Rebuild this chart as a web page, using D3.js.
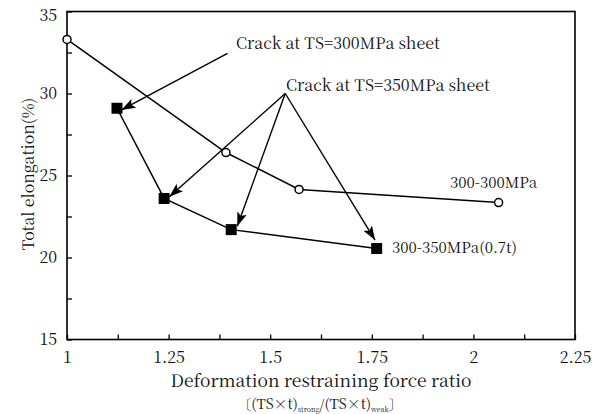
<!DOCTYPE html>
<html>
<head>
<meta charset="utf-8">
<script src="https://cdn.jsdelivr.net/npm/d3@7"></script>
<style>
  body { margin: 0; background: #fff; }
</style>
</head>
<body>
<div id="chart"></div>
<script>
// data
const ratio300 = [1.0, 1.391, 1.571, 2.062];
const elong300 = [33.3, 26.4, 24.15, 23.35];
const ratio350 = [1.123, 1.239, 1.404, 1.762];
const elong350 = [29.1, 23.6, 21.7, 20.55];

const xTicks = [1, 1.25, 1.5, 1.75, 2, 2.25];
const xTickLabels = ["1", "1.25", "1.5", "1.75", "2", "2.25"];
const yTicks = [15, 20, 25, 30, 35];

// annotation arrows: start point and arrow tips (data units)
const crack300 = { label: "Crack at TS=300MPa sheet", at: [1.395, 32.45], targets: [[1.134, 29.0]] };
const crack350 = { label: "Crack at TS=350MPa sheet", at: [1.537, 30.0],
  targets: [[1.252, 23.7], [1.419, 21.9], [1.758, 21.06]] };

const FONT = "'Noto Serif CJK JP', 'Liberation Serif', serif";
const W = 603, H = 414;
const x = d3.scaleLinear().domain([1, 2.25]).range([67, 575]);
const y = d3.scaleLinear().domain([15, 35]).range([339.5, 11.5]);

const svg = d3.select("#chart").append("svg")
  .attr("width", W).attr("height", H);

function label(sel, size) {
  return sel.style("font-family", FONT).style("font-size", size + "px").attr("fill", "#111");
}

const defs = svg.append("defs");
defs.append("marker")
  .attr("id", "arrow")
  .attr("viewBox", "0 0 14 10")
  .attr("refX", 14).attr("refY", 5)
  .attr("markerWidth", 14).attr("markerHeight", 10)
  .attr("markerUnits", "userSpaceOnUse")
  .attr("orient", "auto")
  .append("path")
  .attr("d", "M0,0 L14,5 L0,10 L3,5 Z")
  .attr("fill", "#000");

// frame
svg.append("rect")
  .attr("x", x(1)).attr("y", y(35))
  .attr("width", x(2.25) - x(1)).attr("height", y(15) - y(35))
  .attr("fill", "none").attr("stroke", "#000").attr("stroke-width", 1.6);

// axes with inward ticks
const xAxis = svg.append("g").attr("transform", `translate(0,${y(15)})`)
  .call(d3.axisBottom(x).tickValues(d3.range(1, 2.26, 0.125)).tickSize(-5)
    .tickFormat((d) => {
      const i = xTicks.findIndex((t) => Math.abs(t - d) < 1e-6);
      return i >= 0 ? xTickLabels[i] : "";
    }).tickPadding(12));
xAxis.select(".domain").remove();
xAxis.selectAll("line").attr("stroke", "#000").attr("stroke-width", 1.3);
label(xAxis.selectAll("text"), 16);

const yAxis = svg.append("g").attr("transform", `translate(${x(1)},0)`)
  .call(d3.axisLeft(y).tickValues(d3.range(15, 35.1, 2.5)).tickSize(-5)
    .tickFormat((d) => (yTicks.includes(d) ? d : "")).tickPadding(10));
yAxis.select(".domain").remove();
yAxis.selectAll("line").attr("stroke", "#000").attr("stroke-width", 1.3);
label(yAxis.selectAll("text"), 16);
// keep the top label inside the page
yAxis.selectAll("text").filter((d) => d === 35).attr("dy", "0.55em");

// axis titles
label(svg.append("text"), 16)
  .attr("transform", `translate(28,174) rotate(-90)`)
  .attr("text-anchor", "middle").attr("dy", "0.35em")
  .text("Total elongation(%)");

label(svg.append("text"), 17.5)
  .attr("x", 321).attr("y", 387)
  .attr("text-anchor", "middle")
  .text("Deformation restraining force ratio");

const sub = label(svg.append("text"), 14)
  .attr("x", 320).attr("y", 409)
  .attr("text-anchor", "middle");
sub.append("tspan").text("〔(TS×t)");
sub.append("tspan").attr("dy", 3).style("font-size", "7px").text("strong");
sub.append("tspan").attr("dy", -3).text("/(TS×t)");
sub.append("tspan").attr("dy", 3).style("font-size", "7px").text("weak");
sub.append("tspan").attr("dy", -3).text("〕");

// series lines
const line = d3.line().x((d) => x(d[0])).y((d) => y(d[1]));
const pts300 = ratio300.map((r, i) => [r, elong300[i]]);
const pts350 = ratio350.map((r, i) => [r, elong350[i]]);

svg.append("path").datum(pts300).attr("d", line)
  .attr("fill", "none").attr("stroke", "#000").attr("stroke-width", 1.5);
svg.append("path").datum(pts350).attr("d", line)
  .attr("fill", "none").attr("stroke", "#000").attr("stroke-width", 1.5);

// arrows
[crack300, crack350].forEach((c) => {
  c.targets.forEach((t) => {
    svg.append("line")
      .attr("x1", x(c.at[0])).attr("y1", y(c.at[1]))
      .attr("x2", x(t[0])).attr("y2", y(t[1]))
      .attr("stroke", "#000").attr("stroke-width", 1.4)
      .attr("marker-end", "url(#arrow)");
  });
});

svg.selectAll(".c300").data(pts300).enter().append("circle")
  .attr("cx", (d) => x(d[0])).attr("cy", (d) => y(d[1]))
  .attr("r", 4).attr("fill", "#fff").attr("stroke", "#000").attr("stroke-width", 1.5);

svg.selectAll(".s350").data(pts350).enter().append("rect")
  .attr("x", (d) => x(d[0]) - 5.5).attr("y", (d) => y(d[1]) - 5.5)
  .attr("width", 11).attr("height", 11).attr("fill", "#000");

// annotation texts
label(svg.append("text"), 16).attr("x", 236).attr("y", 49).text(crack300.label);
label(svg.append("text"), 16).attr("x", 286).attr("y", 91).text(crack350.label);

// series labels
label(svg.append("text"), 15).attr("x", 450).attr("y", 188).text("300-300MPa");
label(svg.append("text"), 15).attr("x", 392).attr("y", 253).text("300-350MPa(0.7t)");
</script>
</body>
</html>
